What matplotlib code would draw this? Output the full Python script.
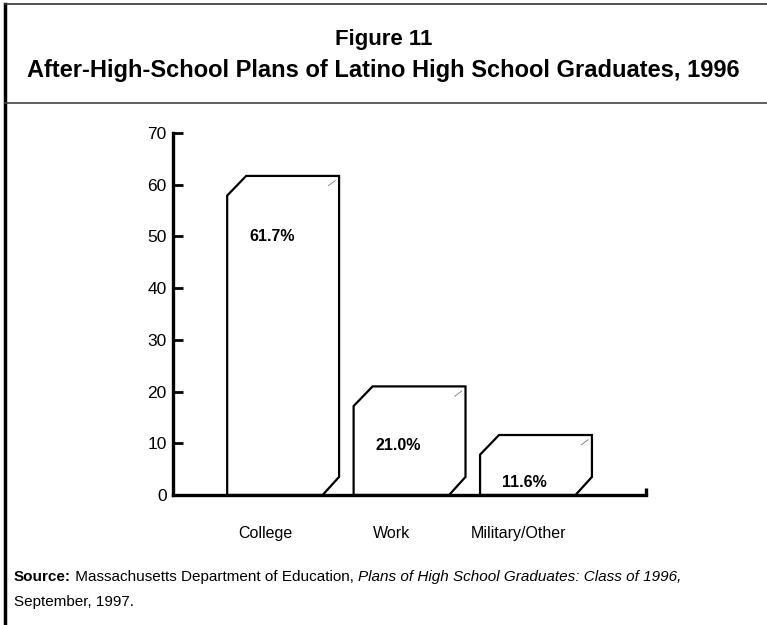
import matplotlib
matplotlib.use('Agg')
import matplotlib.pyplot as plt
from matplotlib.patches import Polygon
from matplotlib.lines import Line2D

# data
categories = ['College', 'Work', 'Military/Other']
values = [61.7, 21.0, 11.6]
value_labels = ['61.7%', '21.0%', '11.6%']
yticks = [0, 10, 20, 30, 40, 50, 60, 70]

# layout bits
label_y = [50, 9.5, 2.5]
bar_w = 0.885
cut_x, cut_y = 0.15, 3.8      # top-left bevel
cut_x2, cut_y2 = 0.13, 3.5    # bottom-right bevel

plt.rcParams['font.family'] = ['Liberation Sans', 'DejaVu Sans']

W, H = 767, 625
fig = plt.figure(figsize=(W/100, H/100), dpi=100)
ax = fig.add_axes([173/W, 130/H, 473/W, 362/H])

for i, v in enumerate(values):
    L = i - bar_w/2
    R = i + bar_w/2
    pts = [(L, 0), (L, v - cut_y), (L + cut_x, v), (R, v),
           (R, cut_y2), (R - cut_x2, 0)]
    ax.add_patch(Polygon(pts, closed=True, facecolor='white',
                         edgecolor='black', lw=1.6, joinstyle='miter'))
    # faint scratch in the top-right corner
    ax.plot([R - 0.085, R - 0.03], [v - 1.9, v - 0.9], color='#777777', lw=0.6)
    ax.text(i - 0.09, label_y[i], value_labels[i], ha='center', va='center',
            fontsize=11.5, fontweight='semibold')
    ax.text(i - 0.14, -7.4, categories[i], ha='center', va='center',
            fontsize=11.5, clip_on=False)

ax.set_xlim(-0.871, 2.87)
ax.set_ylim(0, 70)
ax.set_yticks(yticks)
ax.set_xticks([])
ax.spines['top'].set_visible(False)
ax.spines['right'].set_visible(False)
ax.spines['left'].set_linewidth(2.4)
ax.spines['bottom'].set_linewidth(2.4)
ax.tick_params(axis='y', direction='in', length=7.5, width=2, labelsize=12.5, pad=4.5)
# little upturn at the right end of the baseline
ax.plot([2.87, 2.87], [0, 1.4], color='black', lw=2.4, clip_on=False,
        solid_capstyle='butt')

# titles
fig.text(0.5, 1 - 40/H, 'Figure 11', ha='center', va='center',
         fontsize=16, fontweight='bold')
fig.text(0.5, 1 - 71/H,
         'After-High-School Plans of Latino High School Graduates, 1996',
         ha='center', va='center', fontsize=17, fontweight='bold')

# frame lines
fig.add_artist(Line2D([5/W, 5/W], [0, 1 - 4/H], color='black', lw=2.5,
                      transform=fig.transFigure))
fig.add_artist(Line2D([5/W, 1], [1 - 4/H, 1 - 4/H], color='#333333', lw=1.2,
                      transform=fig.transFigure))
fig.add_artist(Line2D([5/W, 1], [1 - 103/H, 1 - 103/H], color='#444444',
                      lw=1.2, transform=fig.transFigure))

# source note, pieces laid end to end
fig.canvas.draw()
r = fig.canvas.get_renderer()
x = 14
parts = [('Source:', 'bold', 'normal'),
         (' Massachusetts Department of Education, ', 'normal', 'normal'),
         ('Plans of High School Graduates: Class of 1996,', 'normal', 'italic')]
for s, wt, st in parts:
    t = fig.text(x/W, 1 - 577/H, s, ha='left', va='center', fontsize=11,
                 fontweight=wt, style=st)
    x = t.get_window_extent(r).x1
fig.text(14/W, 1 - 602/H, 'September, 1997.', ha='left', va='center',
         fontsize=11)

fig.savefig('out.png', dpi=100)
